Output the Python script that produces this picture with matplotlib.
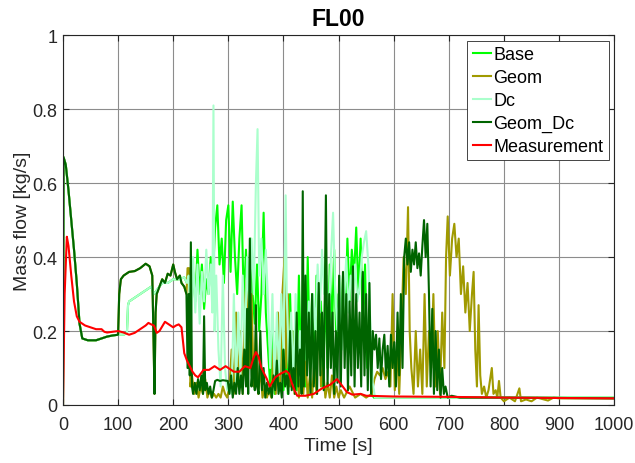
import matplotlib
matplotlib.use("Agg")
import matplotlib.pyplot as plt

plt.rcParams['font.family'] = ['Liberation Sans', 'DejaVu Sans']

# common start-up of the simulations (0-100 s)
start_t = [0, 1, 5, 10, 15, 20, 25, 30, 35, 45, 60, 70, 80, 90, 100]
start_y = [0.0, 0.67, 0.65, 0.58, 0.50, 0.42, 0.33, 0.22, 0.18, 0.175, 0.175, 0.18, 0.185, 0.188, 0.19]

# Base
base_t = start_t + [110, 116, 118, 120, 130, 140, 150, 160, 165, 170, 180, 190, 200, 210, 220, 225,
                    228, 232, 236, 240, 244, 248, 252, 256, 260, 264, 268, 272, 276, 280, 284, 288,
                    292, 296, 300, 304, 308, 312, 316, 320, 324, 328, 332, 336, 340, 344, 348, 352,
                    356, 360, 364, 368, 372, 376, 380, 384, 388, 392, 396, 400, 404, 408, 412, 416,
                    420, 424, 428, 432, 436, 440, 444, 448, 452, 456, 460, 464, 468, 472, 476, 480,
                    484, 488, 492, 496, 500, 504, 508, 512, 516, 520, 524, 528, 532, 536, 540, 544,
                    548, 552, 556, 560, 564, 580, 1000]
base_y = start_y + [0.19, 0.195, 0.27, 0.28, 0.29, 0.30, 0.31, 0.32, 0.30, 0.31, 0.33, 0.33, 0.34, 0.34, 0.345, 0.33,
                    0.33, 0.30, 0.36, 0.28, 0.42, 0.30, 0.38, 0.26, 0.34, 0.30, 0.40, 0.35, 0.48, 0.54, 0.38, 0.45,
                    0.33, 0.50, 0.54, 0.36, 0.55, 0.40, 0.30, 0.45, 0.54, 0.28, 0.42, 0.25, 0.45, 0.30, 0.22, 0.38,
                    0.20, 0.30, 0.52, 0.25, 0.15, 0.05, 0.22, 0.03, 0.20, 0.06, 0.25, 0.04, 0.15, 0.03, 0.30, 0.08,
                    0.20, 0.04, 0.35, 0.10, 0.25, 0.05, 0.40, 0.12, 0.30, 0.06, 0.35, 0.15, 0.28, 0.05, 0.32, 0.10,
                    0.38, 0.20, 0.42, 0.15, 0.30, 0.18, 0.35, 0.22, 0.45, 0.28, 0.42, 0.35, 0.48, 0.30, 0.45, 0.20,
                    0.38, 0.10, 0.25, 0.03, 0.02, 0.02, 0.02]

# Geom_Dc
gdc_t = start_t + [102, 105, 110, 120, 130, 140, 150, 157, 162, 164, 166, 168, 170, 175, 180, 185, 190, 195,
                   200, 203, 207, 212, 215, 220, 224, 226, 228, 230, 232, 234, 236, 239, 242, 245, 248, 251,
                   254, 256, 258, 261, 264, 267, 270, 273, 276, 280, 285, 290, 295, 299, 302, 305, 308, 311,
                   314, 317, 320, 323, 326, 329, 332, 334, 336, 339, 342, 345, 348, 350, 352, 355, 358, 361,
                   364, 367, 370, 373, 376, 379, 382, 385, 388, 391, 394, 397, 400, 403, 406, 409, 412, 415,
                   418, 421, 424, 427, 430, 433, 435, 437, 440, 443, 446, 449, 452, 455, 458, 461, 464, 467,
                   470, 473, 477, 480, 483, 486, 489, 492, 495, 498, 501, 504, 508, 511, 514, 517, 520, 523,
                   526, 529, 532, 535, 538, 541, 544, 547, 550, 553, 556, 559, 562, 565, 568, 571, 574, 577,
                   580, 583, 586, 589, 592, 595, 598, 601, 604, 607, 610, 613, 616, 619, 622, 625, 628, 631,
                   634, 637, 640, 643, 646, 649, 652, 655, 658, 661, 664, 667, 670, 673, 676, 679, 682, 685,
                   688, 691, 694, 698, 705, 720, 800, 900, 1000]
gdc_y = start_y + [0.30, 0.34, 0.35, 0.36, 0.362, 0.37, 0.382, 0.375, 0.35, 0.20, 0.03, 0.25, 0.30, 0.32, 0.34, 0.33, 0.355, 0.35,
                   0.38, 0.36, 0.34, 0.35, 0.33, 0.32, 0.30, 0.10, 0.30, 0.08, 0.44, 0.05, 0.03, 0.06, 0.03, 0.07, 0.04, 0.08,
                   0.03, 0.24, 0.04, 0.06, 0.03, 0.05, 0.02, 0.04, 0.065, 0.068, 0.065, 0.067, 0.066, 0.065, 0.03, 0.08, 0.02, 0.06,
                   0.03, 0.10, 0.03, 0.08, 0.03, 0.15, 0.05, 0.26, 0.03, 0.45, 0.05, 0.12, 0.04, 0.27, 0.05, 0.03, 0.20, 0.04,
                   0.10, 0.02, 0.06, 0.03, 0.05, 0.02, 0.08, 0.04, 0.12, 0.03, 0.06, 0.02, 0.15, 0.05, 0.08, 0.03, 0.20, 0.04,
                   0.10, 0.03, 0.25, 0.05, 0.15, 0.03, 0.578, 0.05, 0.35, 0.08, 0.25, 0.03, 0.30, 0.05, 0.20, 0.03, 0.33, 0.08,
                   0.25, 0.04, 0.567, 0.05, 0.30, 0.10, 0.25, 0.03, 0.20, 0.06, 0.35, 0.05, 0.36, 0.10, 0.30, 0.04, 0.28, 0.08,
                   0.375, 0.05, 0.30, 0.10, 0.25, 0.05, 0.36, 0.08, 0.30, 0.04, 0.33, 0.03, 0.20, 0.15, 0.19, 0.10, 0.18, 0.07,
                   0.15, 0.19, 0.08, 0.16, 0.05, 0.19, 0.10, 0.17, 0.05, 0.25, 0.08, 0.30, 0.10, 0.40, 0.45, 0.38, 0.44, 0.36,
                   0.42, 0.38, 0.44, 0.37, 0.41, 0.35, 0.43, 0.50, 0.40, 0.49, 0.30, 0.05, 0.26, 0.03, 0.20, 0.04, 0.15, 0.02,
                   0.10, 0.03, 0.05, 0.02, 0.025, 0.02, 0.02, 0.019, 0.018]

# Geom (same start as Geom_Dc up to 224 s)
geom_t = gdc_t[:len(start_t) + 25] + [
    226, 229, 231, 234, 238, 242, 246, 250, 254, 258, 262, 266, 270, 274, 278, 282, 286, 290, 294, 298,
    302, 306, 310, 314, 318, 322, 326, 330, 334, 338, 342, 346, 350, 354, 358, 362, 366, 370, 374, 378,
    382, 386, 390, 394, 398, 402, 405, 408, 412, 416, 420, 424, 428, 432, 436, 440, 444, 448, 452, 456,
    460, 464, 468, 472, 476, 480, 484, 488, 492, 496, 500, 504, 510, 520, 530, 540, 550, 560, 565, 570,
    575, 580, 585, 590, 594, 598, 602, 606, 610, 614, 618, 622, 626, 629, 632, 636, 640, 644, 648, 652,
    656, 660, 664, 668, 672, 676, 680, 684, 688, 692, 695, 698, 702, 706, 710, 714, 718, 722, 726, 730,
    734, 738, 742, 745, 748, 751, 754, 757, 760, 764, 768, 772, 775, 778, 781, 785, 788, 791, 794, 800,
    810, 820, 828, 831, 840, 850, 860, 880, 890, 900, 1000]
geom_y = gdc_y[:len(start_y) + 25] + [
    0.37, 0.37, 0.05, 0.08, 0.03, 0.06, 0.02, 0.05, 0.03, 0.07, 0.02, 0.04, 0.02, 0.03, 0.02, 0.03, 0.02, 0.05, 0.03, 0.02,
    0.05, 0.15, 0.03, 0.25, 0.05, 0.20, 0.03, 0.28, 0.35, 0.10, 0.30, 0.05, 0.20, 0.03, 0.10, 0.02, 0.05, 0.02, 0.04, 0.02,
    0.15, 0.03, 0.25, 0.05, 0.30, 0.40, 0.10, 0.30, 0.05, 0.20, 0.03, 0.15, 0.02, 0.10, 0.03, 0.12, 0.02, 0.08, 0.02, 0.12,
    0.03, 0.30, 0.05, 0.10, 0.02, 0.06, 0.02, 0.08, 0.02, 0.05, 0.02, 0.04, 0.02, 0.05, 0.02, 0.03, 0.02, 0.03, 0.07, 0.09,
    0.08, 0.10, 0.07, 0.09, 0.05, 0.30, 0.04, 0.15, 0.03, 0.20, 0.40, 0.30, 0.535, 0.20, 0.10, 0.03, 0.20, 0.05, 0.15, 0.03,
    0.30, 0.05, 0.20, 0.10, 0.30, 0.05, 0.20, 0.03, 0.25, 0.10, 0.40, 0.51, 0.35, 0.45, 0.49, 0.40, 0.45, 0.30, 0.375, 0.25,
    0.33, 0.20, 0.30, 0.36, 0.15, 0.05, 0.27, 0.08, 0.03, 0.05, 0.02, 0.04, 0.07, 0.10, 0.03, 0.04, 0.02, 0.065, 0.02, 0.01,
    0.02, 0.01, 0.045, 0.01, 0.015, 0.01, 0.02, 0.012, 0.02, 0.018, 0.018]

# Dc (same start as Base up to 225 s)
dc_t = base_t[:len(start_t) + 16] + [
    228, 232, 236, 240, 244, 248, 252, 256, 260, 264, 268, 271, 273, 275, 278, 282, 286, 290, 294, 298,
    302, 306, 310, 314, 318, 322, 326, 330, 334, 338, 342, 346, 350, 353, 356, 360, 364, 368, 372, 376,
    380, 384, 388, 392, 396, 400, 404, 406, 410, 414, 418, 422, 426, 430, 434, 438, 442, 446, 450, 454,
    458, 462, 466, 470, 474, 478, 482, 486, 490, 494, 498, 502, 506, 510, 514, 518, 522, 526, 530, 534,
    538, 542, 546, 550, 554, 558, 562, 566, 1000]
dc_y = base_y[:len(start_y) + 16] + [
    0.35, 0.20, 0.40, 0.25, 0.38, 0.22, 0.36, 0.28, 0.42, 0.30, 0.38, 0.25, 0.81, 0.20, 0.35, 0.15, 0.05, 0.35, 0.10, 0.04,
    0.06, 0.03, 0.30, 0.05, 0.25, 0.08, 0.35, 0.15, 0.40, 0.25, 0.45, 0.30, 0.60, 0.746, 0.35, 0.45, 0.30, 0.42, 0.28, 0.10,
    0.30, 0.05, 0.25, 0.08, 0.30, 0.15, 0.567, 0.30, 0.10, 0.25, 0.05, 0.30, 0.10, 0.20, 0.08, 0.35, 0.12, 0.28, 0.10, 0.30,
    0.20, 0.38, 0.25, 0.42, 0.30, 0.35, 0.20, 0.40, 0.52, 0.30, 0.20, 0.35, 0.15, 0.28, 0.40, 0.25, 0.35, 0.30, 0.38, 0.28,
    0.32, 0.40, 0.44, 0.47, 0.38, 0.20, 0.06, 0.02, 0.02]

# Measurement
meas_t = [0, 3, 7, 10, 15, 20, 25, 30, 40, 50, 60, 70, 75, 80, 90, 100, 110, 120, 130, 140, 150, 155,
          160, 165, 170, 175, 185, 190, 200, 205, 210, 215, 220, 225, 235, 240, 245, 250, 255, 265, 275,
          285, 295, 300, 310, 320, 330, 340, 345, 350, 355, 360, 370, 375, 385, 395, 405, 410, 415, 420,
          425, 440, 455, 470, 485, 497, 505, 515, 525, 540, 550, 600, 700, 800, 1000]
meas_y = [0.0, 0.30, 0.455, 0.43, 0.35, 0.28, 0.24, 0.225, 0.215, 0.21, 0.205, 0.205, 0.198, 0.196, 0.198, 0.20,
          0.196, 0.19, 0.195, 0.205, 0.215, 0.222, 0.218, 0.215, 0.195, 0.20, 0.225, 0.22, 0.21, 0.215, 0.218, 0.21,
          0.14, 0.12, 0.09, 0.08, 0.075, 0.085, 0.095, 0.095, 0.105, 0.095, 0.105, 0.10, 0.09, 0.09, 0.105, 0.10,
          0.125, 0.143, 0.13, 0.10, 0.07, 0.05, 0.075, 0.085, 0.092, 0.085, 0.06, 0.04, 0.025, 0.025, 0.03, 0.045,
          0.055, 0.07, 0.055, 0.035, 0.028, 0.03, 0.025, 0.023, 0.022, 0.02, 0.018]

fig = plt.figure(figsize=(6.35, 4.64), dpi=100)
ax = fig.add_axes([0.0992, 0.125, 0.868, 0.797])

ax.plot(base_t, base_y, color='#00ff00', lw=1.5, label='Base')
ax.plot(geom_t, geom_y, color='#a09a00', lw=1.5, label='Geom')
ax.plot(dc_t, dc_y, color='#aaffcc', lw=1.5, label='Dc')
ax.plot(gdc_t, gdc_y, color='#006400', lw=1.5, label='Geom_Dc')
ax.plot(meas_t, meas_y, color='#ff0000', lw=1.5, label='Measurement')

ax.set_xlim(0, 1000)
ax.set_ylim(0, 1)
ax.set_xticks(range(0, 1001, 100))
ax.set_yticks([0, 0.2, 0.4, 0.6, 0.8, 1])
ax.set_yticklabels(['0', '0.2', '0.4', '0.6', '0.8', '1'])
ax.tick_params(direction='in', top=True, right=True, length=4, labelsize=13,
               colors='#262626', labelcolor='#262626')
ax.tick_params(axis='x', pad=8)
ax.tick_params(axis='y', pad=4)
ax.grid(True, color='#8c8c8c', lw=0.8)
ax.set_axisbelow(True)
for s in ax.spines.values():
    s.set_color('#262626')
    s.set_linewidth(0.8)

ax.set_xlabel('Time [s]', fontsize=14, color='#262626', labelpad=3)
ax.set_ylabel('Mass flow [kg/s]', fontsize=14, color='#262626', labelpad=1)
ax.set_title('FL00', fontsize=16.5, fontweight='bold', pad=7)

leg = ax.legend(loc='upper right', fontsize=13, handlelength=1.0, handletextpad=0.15,
                labelspacing=0.33, borderpad=0.3, borderaxespad=0.3, fancybox=False,
                framealpha=1, edgecolor='#262626')
leg.get_frame().set_linewidth(0.6)

fig.savefig('out.png', dpi=100)
